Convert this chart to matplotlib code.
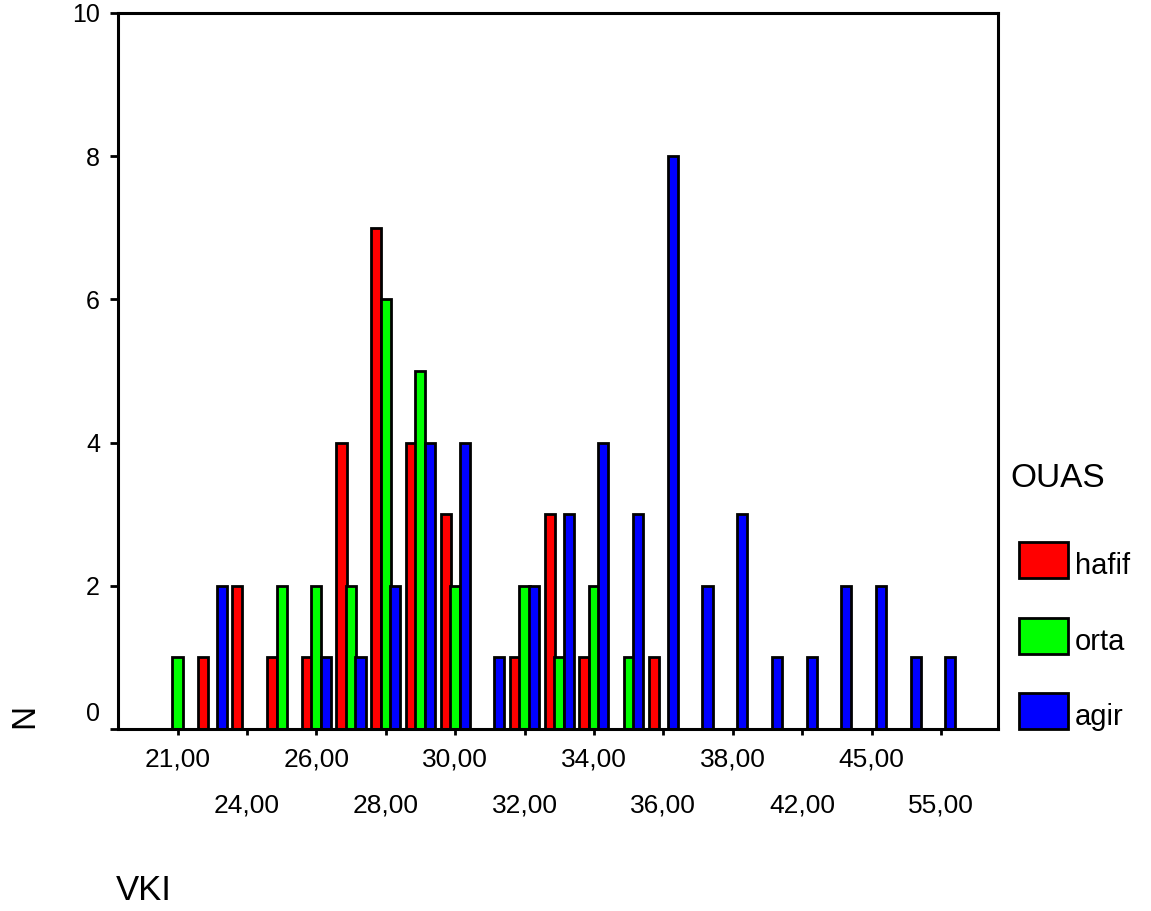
import numpy as np
import matplotlib
matplotlib.use('Agg')
import matplotlib.pyplot as plt
from matplotlib.patches import Rectangle

# ---------- data (counts per VKI category) ----------
vki = ['21,00', '22,00', '24,00', '25,00', '26,00', '27,00', '28,00', '29,00',
       '30,00', '31,00', '32,00', '33,00', '34,00', '35,00', '36,00', '37,00',
       '38,00', '40,00', '42,00', '44,00', '45,00', '50,00', '55,00']
hafif = [0, 1, 2, 1, 1, 4, 7, 4, 3, 0, 1, 3, 1, 0, 1, 0, 0, 0, 0, 0, 0, 0, 0]
orta  = [1, 0, 0, 2, 2, 2, 6, 5, 2, 0, 2, 1, 2, 1, 0, 0, 0, 0, 0, 0, 0, 0, 0]
agir  = [0, 2, 0, 0, 1, 1, 2, 4, 4, 1, 2, 3, 4, 3, 8, 2, 3, 1, 1, 2, 2, 1, 1]
groups = ['hafif', 'orta', 'agir']
colors = ['#ff0000', '#00ff00', '#0000ff']
yticks = [0, 2, 4, 6, 8, 10]

plt.rcParams['font.family'] = ['Liberation Sans', 'DejaVu Sans']

W, H = 1151, 911
fig = plt.figure(figsize=(W / 100, H / 100), dpi=100)
ax = fig.add_axes([118 / W, 1 - 729 / H, (998 - 118) / W, (729 - 13) / H])

x = np.arange(len(vki))
offsets = [-0.274, 0.0, 0.274]
for vals, col, off in zip([hafif, orta, agir], colors, offsets):
    v = np.array(vals)
    m = v > 0
    ax.bar(x[m] + off, v[m], width=0.29, color=col, edgecolor='black',
           linewidth=2.0, zorder=2)

ax.set_xlim(-1.715, 23.645)
ax.set_ylim(0, 10)

for s in ax.spines.values():
    s.set_linewidth(2.2)

# x ticks: labels on two alternating rows
ax.set_xticks(x[0::4], [vki[i] for i in x[0::4]])
ax.set_xticks(x[2::4], [vki[i] for i in x[2::4]], minor=True)
ax.tick_params(axis='x', which='both', direction='out', length=4, width=2,
               labelsize=19)
ax.tick_params(axis='x', which='major', pad=9.4)
ax.tick_params(axis='x', which='minor', pad=42.5)

# y ticks; "0" sits a bit above the axis
ax.set_yticks(yticks, [''] + [str(t) for t in yticks[1:]])
ax.tick_params(axis='y', direction='out', length=5.8, width=2, labelsize=18,
               pad=7.2)
ax.annotate('0', xy=(0, 0), xycoords=('axes fraction', 'data'),
            xytext=(-13, 10.8), textcoords='offset points',
            ha='right', va='center', fontsize=18)

# axis titles
fig.text(25 / W, 1 - 716 / H, 'N', rotation=90, fontsize=24,
         ha='center', va='center')
fig.text(116 / W, 1 - 900 / H, 'VKI', fontsize=25, ha='left', va='baseline')

# legend
fig.text(1010 / W, 1 - 487 / H, 'OUAS', fontsize=24, ha='left', va='baseline')
for i, (name, col) in enumerate(zip(groups, colors)):
    bottom = 578 + i * 75.5
    fig.add_artist(Rectangle((1019 / W, 1 - bottom / H), 49 / W, 36 / H,
                             transform=fig.transFigure, facecolor=col,
                             edgecolor='black', linewidth=2.0))
    fig.text(1075 / W, 1 - (bottom - 4) / H, name, fontsize=21,
             ha='left', va='baseline')

fig.savefig('out.png', dpi=100)
